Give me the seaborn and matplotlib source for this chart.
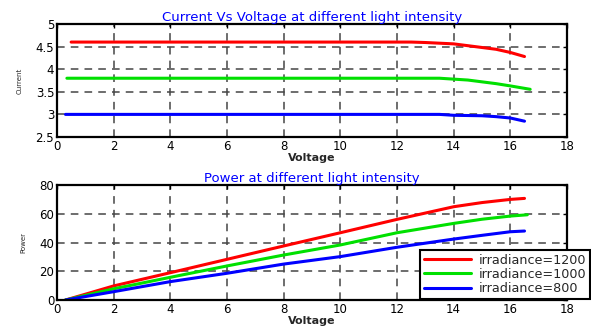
import numpy as np
import pandas as pd
import matplotlib
matplotlib.use("Agg")
import matplotlib.pyplot as plt
import seaborn as sns

# ---- data ----
labels = ["irradiance=1200", "irradiance=1000", "irradiance=800"]
colors = ["#ff0000", "#00e000", "#0000ff"]

v_red_i = [0.5, 2, 4, 6, 8, 10, 12, 12.5, 13, 14, 14.5, 15, 15.5, 16, 16.5]
i_red = [4.6, 4.6, 4.6, 4.6, 4.6, 4.6, 4.6, 4.6, 4.59, 4.56, 4.52, 4.48, 4.44, 4.37, 4.28]
v_green_i = [0.35, 2, 4, 6, 8, 10, 12, 13.5, 14, 14.5, 15, 15.5, 16, 16.7]
i_green = [3.8, 3.8, 3.8, 3.8, 3.8, 3.8, 3.8, 3.8, 3.78, 3.76, 3.72, 3.68, 3.63, 3.555]
v_blue_i = [0.3, 2, 4, 6, 8, 10, 12, 13.5, 14, 15, 15.5, 16, 16.5]
i_blue = [3.0, 3.0, 3.0, 3.0, 3.0, 3.0, 3.0, 3.0, 2.98, 2.97, 2.95, 2.92, 2.85]

v_red_p = [0.3, 2, 4, 6, 8, 10, 12, 14, 15, 16, 16.5]
p_red = [0, 9.8, 19, 28.3, 37.6, 46.8, 56.1, 64.9, 67.8, 70, 70.7]
v_green_p = [0.3, 2, 4, 6, 8, 10, 12, 14, 15, 16, 16.6]
p_green = [0, 7.8, 15.8, 23.7, 31.3, 38.3, 46.8, 53.3, 56.2, 58.4, 59.3]
v_blue_p = [0.3, 2, 4, 6, 8, 10, 12, 14, 15, 16, 16.5]
p_blue = [0, 5.8, 12.8, 18.6, 25, 30.2, 36.7, 42.4, 45, 47.5, 48]

xticks = [0, 2, 4, 6, 8, 10, 12, 14, 16, 18]
yticks_top = [2.5, 3, 3.5, 4, 4.5, 5]
yticks_bot = [0, 20, 40, 60, 80]

def frame(vs, ys, col):
    rows = []
    for lab, v, y in zip(labels, vs, ys):
        for a, b in zip(v, y):
            rows.append({"Voltage": a, col: b, "series": lab})
    return pd.DataFrame(rows)

df_i = frame([v_red_i, v_green_i, v_blue_i], [i_red, i_green, i_blue], "Current")
df_p = frame([v_red_p, v_green_p, v_blue_p], [p_red, p_green, p_blue], "Power")

sns.set_style("white")
plt.rcParams["font.family"] = ["DejaVu Sans"]

fig = plt.figure(figsize=(5.91, 3.29), dpi=100)
ax1 = fig.add_axes([0.0964, 0.5836, 0.863, 0.3435])
ax2 = fig.add_axes([0.0964, 0.0881, 0.863, 0.3495])

pal = dict(zip(labels, colors))

sns.lineplot(data=df_i, x="Voltage", y="Current", hue="series", palette=pal,
             ax=ax1, linewidth=2.2, legend=False, sort=False, estimator=None)
sns.lineplot(data=df_p, x="Voltage", y="Power", hue="series", palette=pal,
             ax=ax2, linewidth=2.2, legend=True, sort=False, estimator=None)

for ax, yt, title in [(ax1, yticks_top, "Current Vs Voltage at different light intensity"),
                      (ax2, yticks_bot, "Power at different light intensity")]:
    ax.set_xlim(0, 18)
    ax.set_ylim(yt[0], yt[-1])
    ax.set_xticks(xticks)
    ax.set_yticks(yt)
    ax.set_yticklabels([("%g" % t) for t in yt])
    ax.grid(True, color="#454545", linestyle=(0, (5, 4)), linewidth=1.1)
    ax.set_axisbelow(True)
    ax.tick_params(direction="in", top=True, right=True, labelsize=8.5,
                   length=3, width=1, colors="black", pad=2)
    for s in ax.spines.values():
        s.set_visible(True)
        s.set_color("black")
        s.set_linewidth(1.6)
    ax.set_title(title, color="#0000ff", fontsize=9.5, pad=2)
    ax.set_xlabel("Voltage", fontsize=8, labelpad=0, fontweight="bold")

ax1.set_ylabel("Current", fontsize=5, labelpad=9)
ax2.set_ylabel("Power", fontsize=5, labelpad=9)

handles, labs = ax2.get_legend_handles_labels()
ax2.legend(handles, labs, loc="lower right", bbox_to_anchor=(0.999, 0.091),
           bbox_transform=fig.transFigure, fontsize=9.2, frameon=True,
           fancybox=False, edgecolor="black", framealpha=1, borderaxespad=0,
           handlelength=3.7, borderpad=0.3, labelspacing=0.1, handletextpad=0.6)
leg = ax2.get_legend()
leg.get_frame().set_linewidth(1.5)

fig.savefig("out.png", dpi=100)
